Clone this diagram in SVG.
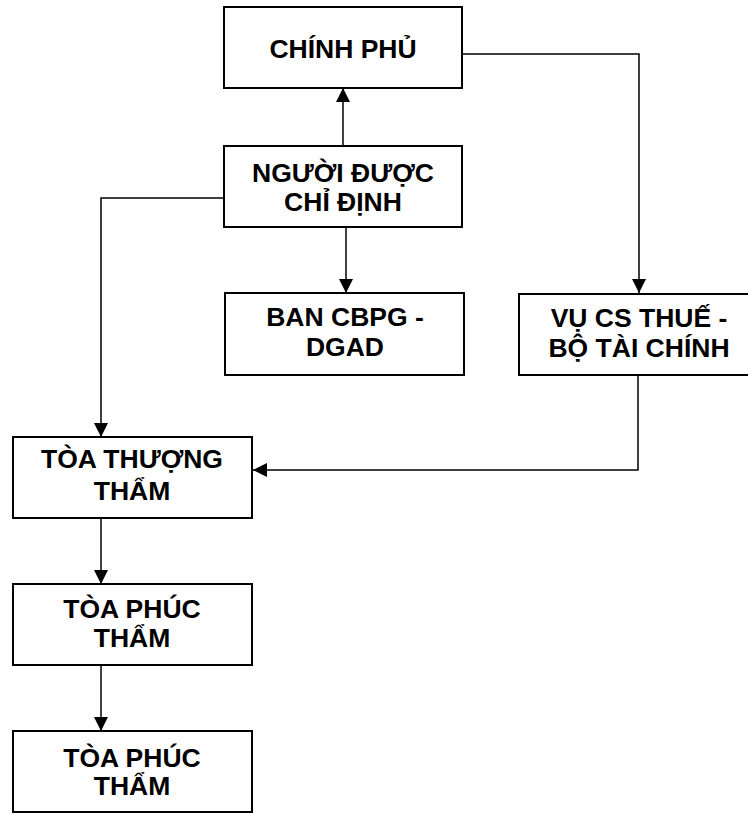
<svg xmlns="http://www.w3.org/2000/svg" width="748" height="814" viewBox="0 0 748 814">
  <style>
    .box { fill: #ffffff; stroke: #000000; stroke-width: 2; }
    .lbl { font-family: "Liberation Sans", Arial, sans-serif; font-weight: bold; font-size: 26.5px; fill: #000000; text-anchor: middle; }
    .wire { fill: none; stroke: #000000; stroke-width: 1.5; }
  </style>
  <defs>
    <marker id="arrow" viewBox="0 0 14 14" refX="14" refY="7" markerWidth="14" markerHeight="14" markerUnits="userSpaceOnUse" orient="auto">
      <path d="M0,0 L14,7 L0,14 Z" fill="#000000"/>
    </marker>
  </defs>
  <rect width="748" height="814" fill="#ffffff"/>

  <!-- connectors -->
  <g id="connectors">
    <path class="wire" d="M343,146 L343,88" marker-end="url(#arrow)"/>
    <path class="wire" d="M462,54 L639,54 L639,293" marker-end="url(#arrow)"/>
    <path class="wire" d="M224,198 L101,198 L101,437" marker-end="url(#arrow)"/>
    <path class="wire" d="M346,227 L346,293" marker-end="url(#arrow)"/>
    <path class="wire" d="M638,375 L638,470 L253,470" marker-end="url(#arrow)"/>
    <path class="wire" d="M101,518 L101,584" marker-end="url(#arrow)"/>
    <path class="wire" d="M101,665 L101,731" marker-end="url(#arrow)"/>
  </g>

  <!-- nodes -->
  <g id="chinh-phu">
    <rect class="box" x="224" y="7" width="238" height="81"/>
    <text class="lbl" x="343" y="58">CHÍNH PHỦ</text>
  </g>
  <g id="nguoi-duoc-chi-dinh">
    <rect class="box" x="224" y="146" width="238" height="81"/>
    <text class="lbl" x="343" y="182">NGƯỜI ĐƯỢC</text>
    <text class="lbl" x="343" y="211">CHỈ ĐỊNH</text>
  </g>
  <g id="ban-cbpg">
    <rect class="box" x="225" y="293" width="239" height="82"/>
    <text class="lbl" x="345" y="326">BAN CBPG -</text>
    <text class="lbl" x="345" y="356">DGAD</text>
  </g>
  <g id="vu-cs-thue">
    <rect class="box" x="519" y="294" width="240" height="81"/>
    <text class="lbl" x="639" y="327">VỤ CS THUẾ -</text>
    <text class="lbl" x="639" y="357">BỘ TÀI CHÍNH</text>
  </g>
  <g id="toa-thuong-tham">
    <rect class="box" x="13" y="437" width="239" height="81"/>
    <text class="lbl" x="132" y="468">TÒA THƯỢNG</text>
    <text class="lbl" x="132" y="500">THẨM</text>
  </g>
  <g id="toa-phuc-tham-1">
    <rect class="box" x="13" y="584" width="239" height="81"/>
    <text class="lbl" x="132" y="618">TÒA PHÚC</text>
    <text class="lbl" x="132" y="647">THẨM</text>
  </g>
  <g id="toa-phuc-tham-2">
    <rect class="box" x="13" y="731" width="239" height="81"/>
    <text class="lbl" x="132" y="767">TÒA PHÚC</text>
    <text class="lbl" x="132" y="795">THẨM</text>
  </g>
</svg>
